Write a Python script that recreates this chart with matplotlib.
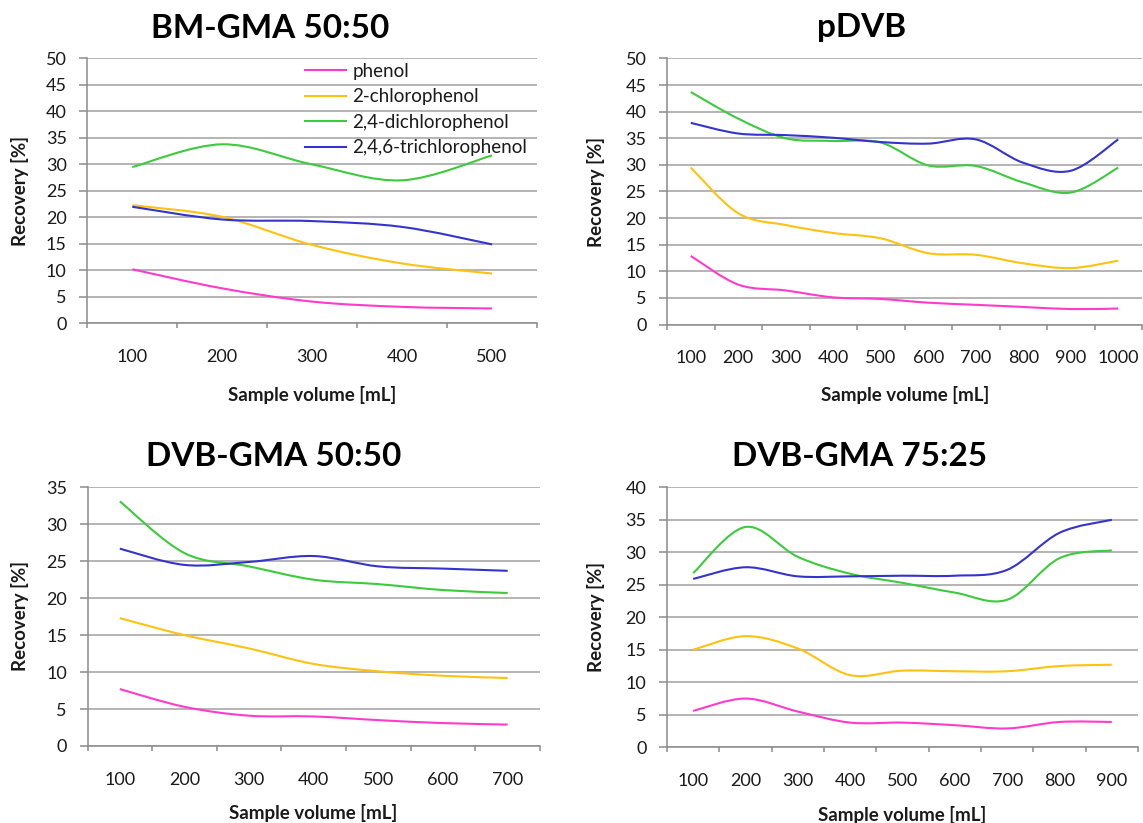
import numpy as np
import matplotlib
matplotlib.use('Agg')
import matplotlib.pyplot as plt
from matplotlib.path import Path
from matplotlib.patches import PathPatch
from matplotlib.lines import Line2D

plt.rcParams['font.family'] = ['Lato', 'DejaVu Sans']

W, H = 1143, 823

series_names = ['phenol', '2-chlorophenol', '2,4-dichlorophenol', '2,4,6-trichlorophenol']
series_colors = ['#FF3BCB', '#FFC20E', '#3CCB3C', '#3434CC']

# BM-GMA 50:50
bm_volumes = [100, 200, 300, 400, 500]
bm_phenol = [10.2, 6.6, 4.1, 3.1, 2.8]
bm_chloro = [22.3, 20.1, 14.8, 11.3, 9.4]
bm_dichloro = [29.5, 33.8, 30.0, 27.0, 31.7]
bm_trichloro = [22.0, 19.6, 19.3, 18.2, 14.9]

# pDVB
pdvb_volumes = [100, 200, 300, 400, 500, 600, 700, 800, 900, 1000]
pdvb_phenol = [12.9, 7.5, 6.4, 5.1, 4.8, 4.1, 3.7, 3.3, 2.9, 3.0]
pdvb_chloro = [29.5, 20.9, 18.7, 17.2, 16.2, 13.4, 13.1, 11.5, 10.6, 12.0]
pdvb_dichloro = [43.7, 38.7, 35.0, 34.5, 34.2, 29.9, 29.8, 26.7, 24.8, 29.5]
pdvb_trichloro = [37.9, 35.9, 35.6, 35.1, 34.3, 34.0, 34.8, 30.4, 28.9, 34.8]

# DVB-GMA 50:50
dg50_volumes = [100, 200, 300, 400, 500, 600, 700]
dg50_phenol = [7.7, 5.3, 4.1, 4.0, 3.5, 3.1, 2.9]
dg50_chloro = [17.3, 15.0, 13.2, 11.1, 10.1, 9.5, 9.2]
dg50_dichloro = [33.1, 26.1, 24.3, 22.5, 21.9, 21.1, 20.7]
dg50_trichloro = [26.7, 24.5, 24.9, 25.7, 24.3, 24.0, 23.7]

# DVB-GMA 75:25
dg75_volumes = [100, 200, 300, 400, 500, 600, 700, 800, 900]
dg75_phenol = [5.6, 7.5, 5.5, 3.8, 3.8, 3.4, 2.9, 3.9, 3.9]
dg75_chloro = [15.0, 17.1, 15.2, 11.1, 11.8, 11.7, 11.7, 12.5, 12.7]
dg75_dichloro = [26.8, 33.9, 29.3, 26.7, 25.3, 23.8, 22.7, 29.1, 30.3]
dg75_trichloro = [25.9, 27.7, 26.3, 26.3, 26.4, 26.4, 27.3, 33.0, 35.0]

panels = [
    dict(title='BM-GMA 50:50', vols=bm_volumes,
         data=[bm_phenol, bm_chloro, bm_dichloro, bm_trichloro], ymax=50,
         box=(87.3, 58.5, 537, 323.3), tpos=(270, 28), ylpos=(20, 191), xlpos=(312, 395),
         legend=True),
    dict(title='pDVB', vols=pdvb_volumes,
         data=[pdvb_phenol, pdvb_chloro, pdvb_dichloro, pdvb_trichloro], ymax=50,
         box=(667, 58.5, 1142, 324.5), tpos=(862, 28), ylpos=(596, 192), xlpos=(905, 395),
         legend=False),
    dict(title='DVB-GMA 50:50', vols=dg50_volumes,
         data=[dg50_phenol, dg50_chloro, dg50_dichloro, dg50_trichloro], ymax=35,
         box=(87.5, 487.3, 540, 746), tpos=(274, 457), ylpos=(20, 616), xlpos=(313, 813),
         legend=False),
    dict(title='DVB-GMA 75:25', vols=dg75_volumes,
         data=[dg75_phenol, dg75_chloro, dg75_dichloro, dg75_trichloro], ymax=40,
         box=(667, 487.3, 1138, 747.3), tpos=(860, 457), ylpos=(596, 617), xlpos=(902, 815),
         legend=False),
]

GRID = '#a0a0a0'
AXC = '#8c8c8c'
TXT = '#1a1a1a'
TICK_FS = 13
LABEL_FS = 13.5
LEG_FS = 13.5
TITLE_FS = 24


def smooth_path(xs, ys):
    pts = np.column_stack([xs, ys]).astype(float)
    n = len(pts)
    verts = [pts[0]]
    codes = [Path.MOVETO]
    for i in range(n - 1):
        p0 = pts[i - 1] if i > 0 else pts[i]
        p1 = pts[i]
        p2 = pts[i + 1]
        p3 = pts[i + 2] if i + 2 < n else pts[i + 1]
        c1 = p1 + (p2 - p0) / 6.0
        c2 = p2 - (p3 - p1) / 6.0
        verts += [c1, c2, p2]
        codes += [Path.CURVE4] * 3
    return Path(np.array(verts), codes)


fig = plt.figure(figsize=(W / 100, H / 100), dpi=100)


def fx(px):
    return px / W


def fy(py):
    return 1 - py / H


for p in panels:
    l, t, r, b = p['box']
    ax = fig.add_axes([fx(l), fy(b), (r - l) / W, (b - t) / H])
    n = len(p['vols'])
    x = np.arange(n)
    ax.set_xlim(-0.5, n - 0.5)
    ax.set_ylim(0, p['ymax'])
    for vals, col in zip(p['data'], series_colors):
        patch = PathPatch(smooth_path(x, vals), fill=False, edgecolor=col,
                          lw=1.5, capstyle='butt', joinstyle='round')
        ax.add_patch(patch)

    for s in ['top', 'right']:
        ax.spines[s].set_visible(False)
    for s in ['left', 'bottom']:
        ax.spines[s].set_color(AXC)
        ax.spines[s].set_linewidth(1.1)

    ax.set_yticks(np.arange(0, p['ymax'] + 1, 5))
    ax.yaxis.grid(True, color=GRID, lw=1.1)
    ax.set_axisbelow(True)
    ax.tick_params(axis='y', length=5.8, width=1.1, color=AXC, pad=9.0,
                   labelsize=TICK_FS, labelcolor=TXT)

    ax.set_xticks(np.arange(n + 1) - 0.5)
    ax.set_xticklabels([])
    ax.set_xticks(x, minor=True)
    ax.set_xticklabels([str(v) for v in p['vols']], minor=True)
    ax.tick_params(axis='x', which='major', length=3.6, width=1.1, color=AXC)
    ax.tick_params(axis='x', which='minor', length=0, pad=18.5,
                   labelsize=TICK_FS, labelcolor=TXT)

    ax.set_ylabel('Recovery [%]', fontsize=LABEL_FS, fontweight='bold', color=TXT, va='center')
    ax.yaxis.set_label_coords(fx(p['ylpos'][0]), fy(p['ylpos'][1]), transform=fig.transFigure)
    ax.set_xlabel('Sample volume [mL]', fontsize=LABEL_FS, fontweight='bold', color=TXT, va='center')
    ax.xaxis.set_label_coords(fx(p['xlpos'][0]), fy(p['xlpos'][1]), transform=fig.transFigure)

    fig.text(fx(p['tpos'][0]), fy(p['tpos'][1]), p['title'], ha='center', va='center',
             fontsize=TITLE_FS, fontweight='bold', color='black')

    if p['legend']:
        handles = [Line2D([], [], color=c, lw=1.5) for c in series_colors]
        fig.legend(handles, series_names, loc='upper left',
                   bbox_to_anchor=(fx(305), fy(63)), frameon=False,
                   fontsize=LEG_FS, handlelength=2.2, handletextpad=0.32,
                   labelspacing=0.45, borderpad=0, borderaxespad=0,
                   labelcolor=TXT)

fig.savefig('out.png', dpi=100)
